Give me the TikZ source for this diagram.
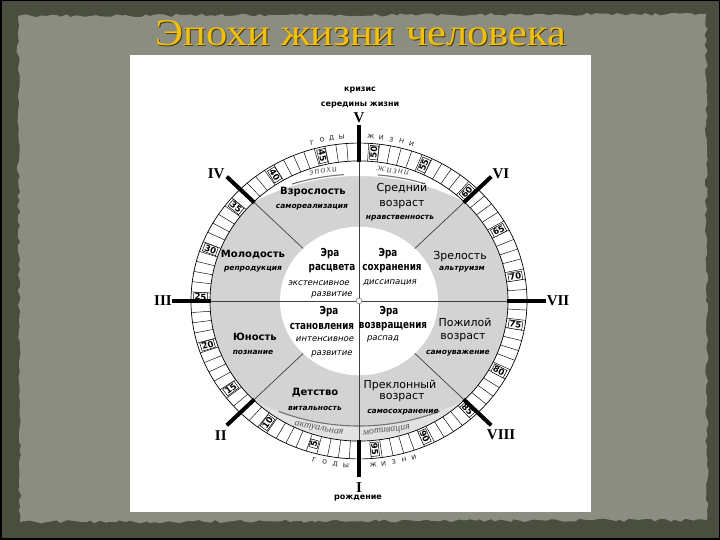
\documentclass[tikz,border=0pt]{standalone}
\usepackage{fontspec}
\setmainfont{Liberation Serif}
\setsansfont{DejaVu Sans}
\newfontfamily\erafont[FakeStretch=0.8,UprightFont={* Bold}]{DejaVu Sans}
\newfontfamily\bandfont[LetterSpace=12]{Liberation Serif}
\usetikzlibrary{decorations.pathmorphing}

\definecolor{frame}{RGB}{74,78,62}
\definecolor{paper}{RGB}{139,141,128}
\definecolor{gold}{RGB}{242,192,12}
\definecolor{sector}{RGB}{211,211,211}
\definecolor{band}{RGB}{226,226,226}

\begin{document}
\begin{tikzpicture}[x=1pt,y=1pt,
    ring/.style={draw=black,line width=0.7pt},
    tick/.style={draw=black,line width=0.45pt},
    agebox/.style={draw=black,line width=0.5pt,fill=white,inner sep=1pt,font=\sffamily\bfseries\fontsize{8.5}{9}\selectfont},
    bar/.style={line width=4pt,black},
    divider/.style={draw=black!75,line width=0.7pt},
    roman/.style={font=\rmfamily\bfseries\fontsize{15}{16}\selectfont},
    caption/.style={font=\sffamily\bfseries\fontsize{8}{9}\selectfont},
    yearletter/.style={font=\sffamily\fontsize{8}{9}\selectfont,text=black!80},
    bandtext/.style={font=\rmfamily\itshape\fontsize{10}{11}\selectfont,text=black!65},
    swoosh/.style={draw=black!55,line width=1.1pt},
    sectorbold/.style={font=\sffamily\bfseries\fontsize{10}{12}\selectfont},
    sectorplain/.style={font=\sffamily\fontsize{11}{12}\selectfont},
    sectorsub/.style={font=\sffamily\bfseries\itshape\fontsize{7.5}{9}\selectfont},
    eratitle/.style={font=\erafont\fontsize{11}{12}\selectfont},
    erasub/.style={font=\sffamily\itshape\fontsize{8.5}{10}\selectfont},
]

% slide background
\fill[frame] (0,0) rectangle (720,540);
\draw[black,line width=1.5pt] (0.75,0.75) rectangle (719.25,539.25);
\pgfmathsetseed{12}
\fill[paper,decorate,decoration={random steps,segment length=5pt,amplitude=1.6pt}]
    (20,18) -- (707,20) -- (706,526) -- (18,524) -- cycle;
\fill[white] (130,28) rectangle (591,485);

\node[text=black!70!gold,inner sep=0pt] (titleshadow) at (362,505.5)
    {\resizebox{411pt}{25pt}{Эпохи жизни человека}};
\node[text=gold,inner sep=0pt] (title) at (361,506.5)
    {\resizebox{411pt}{25pt}{Эпохи жизни человека}};

\begin{scope}[shift={(359,239)},yscale=0.94]
    \fill[sector] (0,0) circle[radius=149];
    \fill[white] (45:149) arc[start angle=60.65,end angle=119.35,radius=215.05]
        arc[start angle=135,end angle=45,radius=149] -- cycle;
    \fill[band] (-135:149) arc[start angle=-119.35,end angle=-60.65,radius=215.05]
        arc[start angle=-45,end angle=-135,radius=149] -- cycle;
    \draw[swoosh] ([shift={(0,82.05)}]-112:215.05) arc[start angle=-112,end angle=-68,radius=215.05];
    \draw[swoosh] ([shift={(0,-82.05)}]108:217) arc[start angle=108,end angle=94,radius=217];
    \draw[swoosh] ([shift={(0,-82.05)}]85:217) arc[start angle=85,end angle=73,radius=217];
    \fill[white] (0,0) circle[radius=79];

    \draw[divider] (180:168) -- (0:168);
    \draw[divider] (90:149) -- (-90:149);
    \foreach \ang in {45,135,225,315}
        \draw[divider] (\ang:79) -- (\ang:149);
    \filldraw[fill=white,draw=black!50,line width=0.6pt] (0,0) circle[radius=3];

    % ring of years
    \draw[ring] (0,0) circle[radius=168];
    \draw[ring] (0,0) circle[radius=149];
    \foreach \k in {0,...,95}
        \draw[tick] ({274.2-3.75*\k}:149) -- ({274.2-3.75*\k}:168);
    \foreach \a in {5,10,...,95} {
        \pgfmathsetmacro\ang{272.3-3.754*\a}
        \pgfmathsetmacro\rot{ifthenelse(\ang>90,\ang-180,\ang)}
        \node[agebox,rotate=\rot] (age\a) at (\ang:158.5) {\a};
    }

    \foreach \ang in {0,45,...,315}
        \draw[bar] (\ang:148) -- (\ang:187);

    \node[roman] (romI) at (-90:198) {I};
    \node[roman] (romII) at (226:199) {II};
    \node[roman] (romIII) at (180:196) {III};
    \node[roman] (romIV) at (136.5:197) {IV};
    \node[roman] (romV) at (90:195) {V};
    \node[roman] (romVI) at (43.6:196) {VI};
    \node[roman] (romVII) at (0:199) {VII};
    \node[roman] (romVIII) at (-45:201) {VIII};

    \foreach \l/\t in {г/105.5,о/102.2,д/99,ы/95.7}
        \node[yearletter,rotate=\t-90] at (\t:175) {\l};
    \foreach \l/\t in {ж/86.1,и/82.7,з/79.3,н/75.9,и/72.5}
        \node[yearletter,rotate=\t-90] at (\t:175) {\l};
    \foreach \l/\t in {г/255.2,о/258.7,д/262.2,ы/265.7}
        \node[yearletter,rotate=\t-270] at (\t:175) {\l};
    \foreach \l/\t in {ж/274.7,и/278.1,з/281.5,н/284.9,и/288.3}
        \node[yearletter,rotate=\t-270] at (\t:175) {\l};

    \node[bandtext,font=\bandfont\itshape\fontsize{10}{11}\selectfont,rotate=9.3] (epochs)
        at ([shift={(0,-82.05)}]99.3:223) {эпохи};
    \node[bandtext,font=\bandfont\itshape\fontsize{10}{11}\selectfont,rotate=-8.7] (oflife)
        at ([shift={(0,-82.05)}]81.3:223) {жизни};
    \node[bandtext,rotate=-10.4] (actual) at ([shift={(0,82.05)}]-100.4:222) {актуальная};
    \node[bandtext,rotate=7.1] (motive) at ([shift={(0,82.05)}]-82.9:222) {мотивация};
\end{scope}

\node[caption] (crisis) at (360,450) {кризис};
\node[caption] (midlife) at (360,435) {середины жизни};
\node[caption] (birth) at (358,42) {рождение};

\node[sectorbold] (adult) at (313,348) {Взрослость};
\node[sectorsub] (adultsub) at (312,333) {самореализация};
\node[sectorplain] (middle) at (402,352) {Средний};
\node[sectorplain] (middleb) at (402,335) {возраст};
\node[sectorsub] (middlesub) at (400,322) {нравственность};
\node[sectorbold] (young) at (253,285) {Молодость};
\node[sectorsub] (youngsub) at (253,271) {репродукция};
\node[sectorplain] (mature) at (460,283) {Зрелость};
\node[sectorsub] (maturesub) at (462,271) {альтруизм};
\node[sectorbold] (youth) at (255,203) {Юность};
\node[sectorsub] (youthsub) at (253,188) {познание};
\node[sectorplain] (elder) at (465,218) {Пожилой};
\node[sectorplain] (elderb) at (463,202) {возраст};
\node[sectorsub] (eldersub) at (458,187) {самоуважение};
\node[sectorbold] (child) at (315,147) {Детство};
\node[sectorsub] (childsub) at (315,132) {витальность};
\node[sectorplain] (declin) at (400,155) {Преклонный};
\node[sectorplain] (declinb) at (402,142) {возраст};
\node[sectorsub] (declinsub) at (403,128) {самосохранение};

\node[eratitle] (eraA) at (330,286) {Эра};
\node[eratitle] (eraAb) at (332,271) {расцвета};
\node[erasub] (eraAc) at (319,257) {экстенсивное};
\node[erasub] (eraAd) at (332,245) {развитие};
\node[eratitle] (eraB) at (388,286) {Эра};
\node[eratitle] (eraBb) at (392,271) {сохранения};
\node[erasub] (eraBc) at (390,257) {диссипация};
\node[eratitle] (eraC) at (329,228) {Эра};
\node[eratitle] (eraCb) at (322,213) {становления};
\node[erasub] (eraCc) at (325,201) {интенсивное};
\node[erasub] (eraCd) at (332,186) {развитие};
\node[eratitle] (eraD) at (389,228) {Эра};
\node[eratitle] (eraDb) at (393,213) {возвращения};
\node[erasub] (eraDc) at (383,201) {распад};
\end{tikzpicture}
\end{document}
